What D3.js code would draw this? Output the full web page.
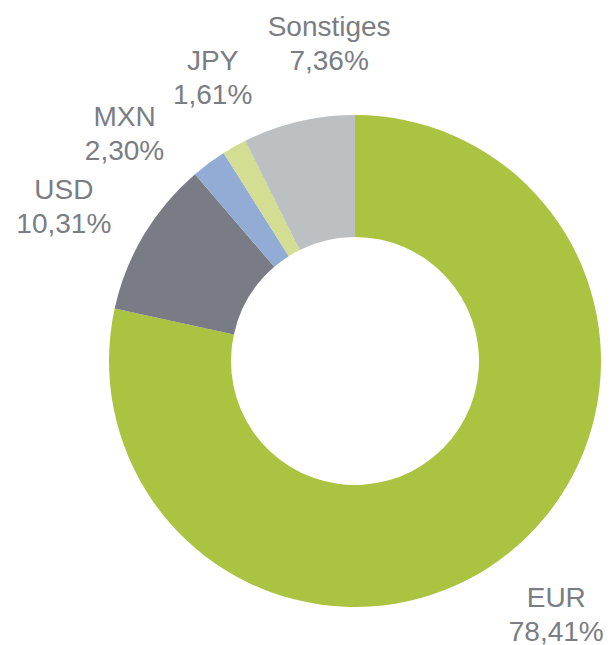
<!DOCTYPE html>
<html>
<head>
<meta charset="utf-8">
<script src="https://cdn.jsdelivr.net/npm/d3@7/dist/d3.min.js"></script>
<style>
  html, body { margin: 0; padding: 0; background: #fff; }
  svg { display: block; }
</style>
</head>
<body>
<svg id="chart" width="611" height="645"></svg>
<script>
// ---- data ----
const categories = ["EUR", "USD", "MXN", "JPY", "Sonstiges"];
const values = [78.41, 10.31, 2.30, 1.61, 7.36];
const valueLabels = ["78,41%", "10,31%", "2,30%", "1,61%", "7,36%"];

// ---- layout / style ----
const colors = ["#AAC341", "#797C84", "#92ACD6", "#D3DE93", "#BDC0C3"];
const cx = 355, cy = 361, outerR = 246, innerR = 124;
// label placement nudges (degrees / px), emulating the original's label layout
const labelAngleShift = [0.3, -2.8, -8.9, 2.8, 8.6];
const labelRadius = [323, 330, 324, 318, 319];
const lineGap = 34;

const svg = d3.select("#chart");
const g = svg.append("g").attr("transform", `translate(${cx},${cy})`);

const data = categories.map((c, i) => ({ cat: c, value: values[i], label: valueLabels[i], i }));

const pie = d3.pie().value(d => d.value).sort(null);
const arcs = pie(data);
const arc = d3.arc().innerRadius(innerR).outerRadius(outerR);

g.selectAll("path.slice")
  .data(arcs)
  .join("path")
  .attr("class", "slice")
  .attr("d", arc)
  .attr("fill", d => colors[d.data.i]);

const labels = g.selectAll("text.lbl")
  .data(arcs)
  .join("text")
  .attr("class", "lbl")
  .attr("text-anchor", "middle")
  .attr("font-family", "'Liberation Sans', Arial, sans-serif")
  .attr("font-size", 28)
  .attr("fill", "#7A7D83")
  .attr("transform", d => {
    const a = (d.startAngle + d.endAngle) / 2 + labelAngleShift[d.data.i] * Math.PI / 180;
    const r = labelRadius[d.data.i];
    return `translate(${r * Math.sin(a)},${-r * Math.cos(a)})`;
  });

labels.append("tspan").attr("x", 0).attr("y", -7).text(d => d.data.cat);
labels.append("tspan").attr("x", 0).attr("y", -7 + lineGap).text(d => d.data.label);
</script>
</body>
</html>
